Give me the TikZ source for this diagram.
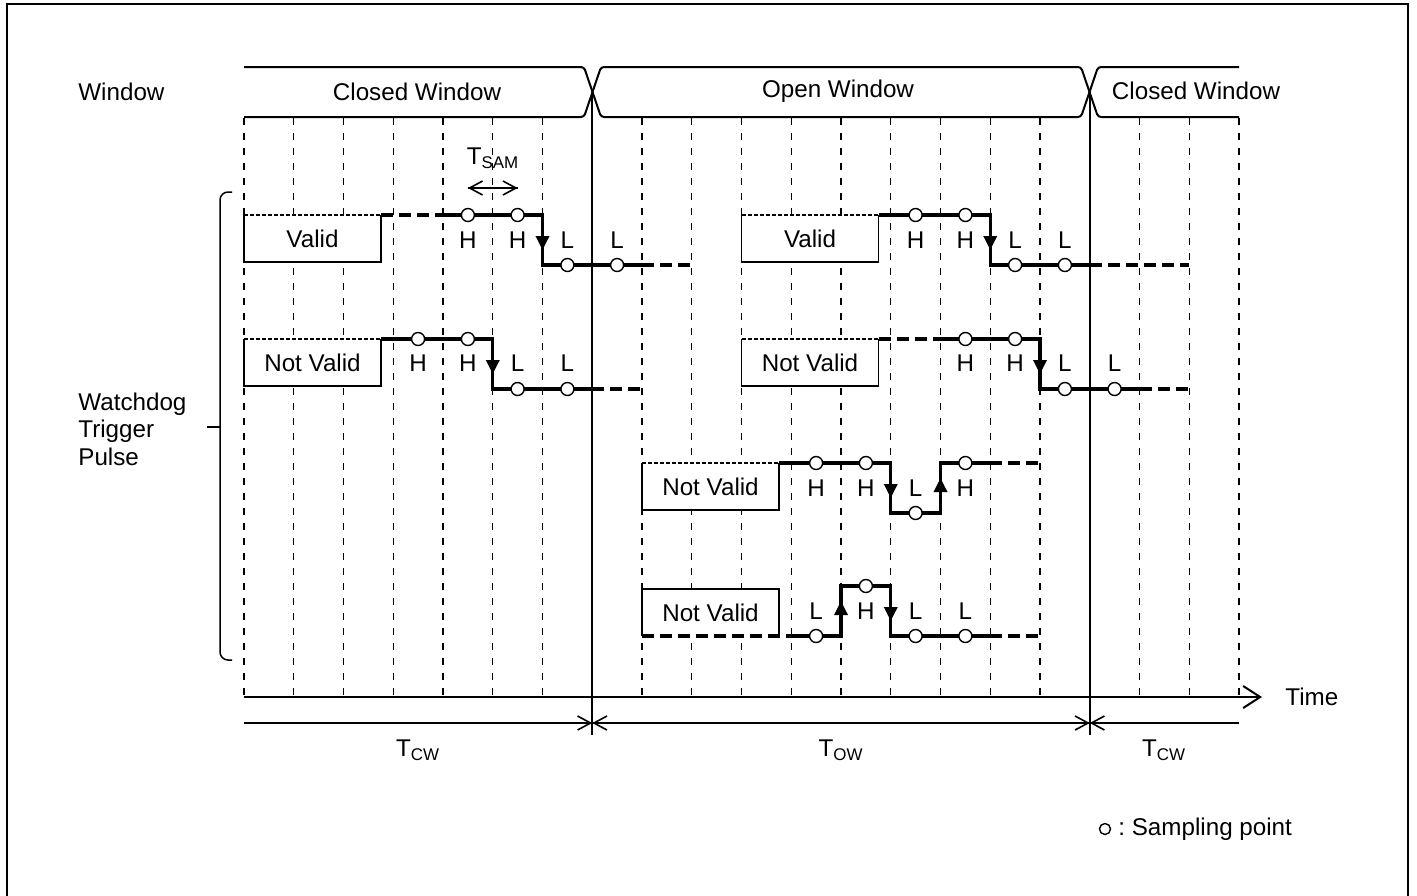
\documentclass[tikz,border=0pt]{standalone}
\usepackage{fontspec}
\setmainfont{Liberation Sans}
\usetikzlibrary{arrows.meta}
\begin{document}
\begin{tikzpicture}[x=0.5pt,y=-0.5pt,
  font=\fontsize{12.1}{13.75}\selectfont,
  gridline/.style={line width=0.65pt, dash pattern=on 3.5pt off 4pt},
  sig/.style={line width=1.65pt},
  sigdash/.style={line width=1.65pt, dash pattern=on 6pt off 3pt},
  topdash/.style={line width=0.6pt, dash pattern=on 2pt off 1pt},
  samp/.style={circle, draw, fill=white, line width=0.7pt, inner sep=0pt, minimum size=6.5pt},
  lbl/.style={inner sep=0pt},
  boxnode/.style={inner sep=0pt, outer sep=0pt, fill=white, minimum width=68.5pt, minimum height=23.5pt},
  boxside/.style={line width=0.7pt},
  solidline/.style={line width=1pt},
  barb/.style={line width=0.8pt},
  tip/.style={-{Straight Barb[length=6.5pt,width=7pt]}},
  trans/.style={line width=1.65pt, -{Triangle[length=7pt,width=6.5pt]}},
]
\useasboundingbox (0,0) rectangle (1417,895);
% frame
\draw[line width=1.4pt] (7,905) -- (7,4) -- (1408,4) -- (1408,905);

% window band
\draw[solidline, rounded corners=1.5pt] (244,67) -- (584,67) -- (601,117) -- (1081,117) -- (1098,67) -- (1239,67);
\draw[solidline, rounded corners=1.5pt] (244,117) -- (584,117) -- (601,67) -- (1081,67) -- (1098,117) -- (1239,117);
\node[lbl, anchor=west] (win) at (78,92) {Window};
\node[lbl] (cw1) at (417,92) {Closed Window};
\node[lbl] (ow) at (838,91) {Open Window};
\node[lbl] (cw2) at (1196,91) {Closed Window};

% grid
\foreach \i in {0,...,6,8,9,...,16,18,19,20}
  \draw[gridline] ({244+49.75*\i},118) -- ({244+49.75*\i},697);
\draw[solidline] (592.25,92) -- (592.25,735);
\draw[solidline] (1089.75,92) -- (1089.75,735);

% time axis
\coordinate (t0) at (244,697);
\coordinate (t1) at (1262,697);
\draw[solidline, -{Straight Barb[length=8.5pt,width=11pt]}] (t0) -- (t1);
\node[lbl, anchor=west] (time) at (1285,697) {Time};

% dimension lines
\coordinate (d0) at (244,723);
\coordinate (d1) at (592.25,723);
\coordinate (d2) at (1089.75,723);
\coordinate (d3) at (1239,723);
\draw[barb, tip] (d0) -- (d1);
\draw[barb, tip] (d1) -- (d2);
\draw[barb, tip] (d2) -- (d1);
\draw[barb, tip] (d3) -- (d2);
\node[lbl] (tcw1) at (418,750) {T\textsubscript{CW}};
\node[lbl] (tow) at (841,750) {T\textsubscript{OW}};
\node[lbl] (tcw2) at (1164,750) {T\textsubscript{CW}};

% T_SAM
\coordinate (s0) at (467.9,188);
\coordinate (s1) at (517.6,188);
\draw[barb, tip] (s0) -- (s1);
\draw[barb, tip] (s1) -- (s0);
\node[lbl] (tsam) at (493,158) {T\textsubscript{SAM}};

% brace
\draw[line width=0.75pt, rounded corners=4pt] (232,192) -- (220,192) -- (220,660) -- (232,660);
\draw[line width=0.75pt] (207,427) -- (220,427);
\node[lbl, anchor=west, align=left] (wtp) at (78,429) {Watchdog\\Trigger\\Pulse};

% ---------- boxes ----------
\node[boxnode] (b1) at (312.5,238.5) {Valid};
\node[boxnode] (b2) at (312.5,362.5) {Not Valid};
\node[boxnode] (b3) at (810,238.5) {Valid};
\node[boxnode] (b4) at (810,362.5) {Not Valid};
\node[boxnode] (b5) at (710.5,486.5) {Not Valid};
\node[boxnode] (b6) at (710.5,612.5) {Not Valid};
\foreach \b in {b1,b2,b3,b4,b5}{
  \draw[boxside] (\b.north west) -- (\b.south west) -- (\b.south east) -- (\b.north east);
  \draw[topdash] (\b.north west) -- (\b.north east);
}
\draw[boxside] (b6.south west) -- (b6.north west) -- (b6.north east) -- (b6.south east);

% ---------- signals ----------
% row 1
\draw[sigdash] (b1.north east) -- (443,215);
\draw[sig] (443,215) -- (542.5,215) -- (542.5,265) -- (642,265);
\draw[sigdash] (642,265) -- (691,265);
\draw[trans] (542.5,215) -- (542.5,250);
% row 2
\draw[sigdash] (b2.north east) -- (393.25,339);
\draw[sig] (393.25,339) -- (492.75,339) -- (492.75,389) -- (592.25,389);
\draw[sigdash] (592.25,389) -- (642,389);
\draw[trans] (492.75,339) -- (492.75,374);
% row 3
\draw[sigdash] (b3.north east) -- (890.75,215);
\draw[sig] (890.75,215) -- (990.25,215) -- (990.25,265) -- (1089.75,265);
\draw[sigdash] (1089.75,265) -- (1189.25,265);
\draw[trans] (990.25,215) -- (990.25,250);
% row 4
\draw[sigdash] (b4.north east) -- (940.5,339);
\draw[sig] (940.5,339) -- (1040,339) -- (1040,389) -- (1139.5,389);
\draw[sigdash] (1139.5,389) -- (1189.25,389);
\draw[trans] (1040,339) -- (1040,374);
% row 5
\draw[sigdash] (b5.north east) -- (791.25,463);
\draw[sig] (791.25,463) -- (890.75,463) -- (890.75,513) -- (940.5,513) -- (940.5,463) -- (990.25,463);
\draw[sigdash] (990.25,463) -- (1040,463);
\draw[trans] (890.75,463) -- (890.75,498);
\draw[trans] (940.5,513) -- (940.5,478);
% row 6
\draw[sigdash] (b6.south west) -- (791.25,636);
\draw[sig] (791.25,636) -- (841,636) -- (841,586) -- (890.75,586) -- (890.75,636) -- (990.25,636);
\draw[sigdash] (990.25,636) -- (1040,636);
\draw[trans] (841,636) -- (841,601);
\draw[trans] (890.75,586) -- (890.75,621);

% ---------- sampling points and levels ----------
\foreach \n/\x/\y/\ly/\t in {
  a1/467.9/215/240/H, a2/517.6/215/240/H, a3/567.4/265/240/L, a4/617.1/265/240/L,
  c1/418.1/339/363/H, c2/467.9/339/363/H, c3/517.6/389/363/L, c4/567.4/389/363/L,
  e1/915.6/215/240/H, e2/965.4/215/240/H, e3/1015.1/265/240/L, e4/1064.9/265/240/L,
  f1/965.4/339/363/H, f2/1015.1/339/363/H, f3/1064.9/389/363/L, f4/1114.6/389/363/L,
  g1/816.1/463/488/H, g2/865.9/463/488/H, g3/915.6/513/488/L, g4/965.4/463/488/H,
  h1/816.1/636/611/L, h2/865.9/586/611/H, h3/915.6/636/611/L, h4/965.4/636/611/L}{
  \node[samp] (p\n) at (\x,\y) {};
  \node[lbl] (q\n) at (\x,\ly) {\t};
}

% legend
\node[samp, minimum size=5.5pt] (legc) at (1105,829) {};
\node[lbl, anchor=west] (legt) at (1118,829) {:\ Sampling point};
\end{tikzpicture}
\end{document}
